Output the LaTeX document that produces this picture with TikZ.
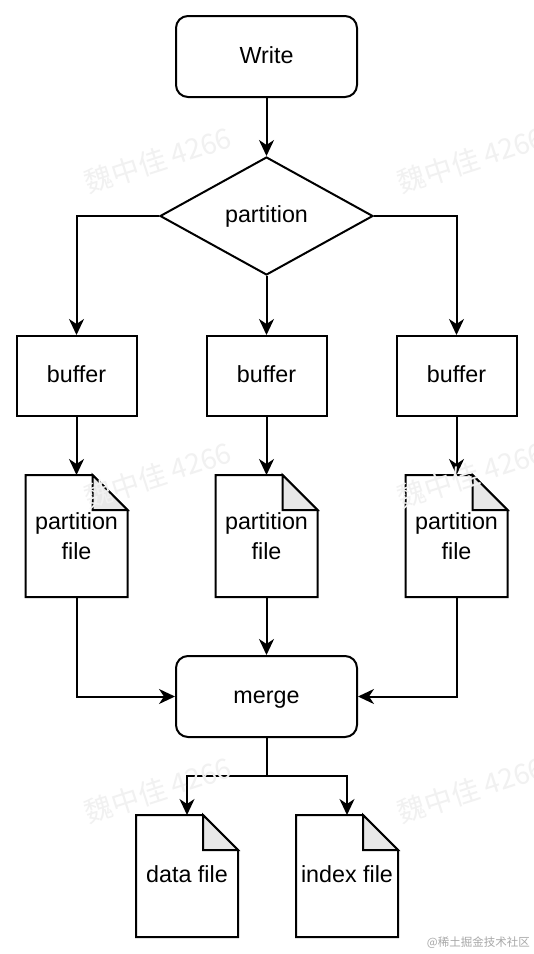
\documentclass[tikz,border=0pt]{standalone}
\usepackage{fontspec}
\setmainfont{Liberation Sans}
\newfontfamily\cjk{Noto Sans CJK SC}
\usetikzlibrary{shapes.geometric,arrows.meta}
\definecolor{foldgray}{HTML}{E8E8E8}
\definecolor{wmgray}{HTML}{F1F1F1}
\definecolor{sitegray}{HTML}{A8A8A8}
\tikzset{
  base/.style={line width=2pt, font=\fontsize{23.3}{30}\selectfont, align=center, inner sep=0pt},
  oneline/.style={text height=18.6pt, text depth=5pt},
  roundbox/.style={base, oneline, draw, rounded corners=12pt, minimum width=181pt, minimum height=81pt},
  squarebox/.style={base, oneline, draw, minimum width=120pt, minimum height=80pt},
  decision/.style={base, oneline, draw, diamond, minimum width=213pt, minimum height=118pt},
  filebox/.style={base, minimum width=100pt, minimum height=120pt},
  link/.style={line width=2pt},
  arrow/.style={link, -{Stealth[length=16pt,width=15pt,inset=5pt]}},
  wm/.style={font=\cjk\fontsize{28}{28}\selectfont, text=wmgray, rotate=18, inner sep=0pt},
}
\newcommand{\docoutline}[1]{%
  \draw[link, line join=miter] (#1.north west) -- ([xshift=-35pt]#1.north east) -- ([yshift=-35pt]#1.north east) -- (#1.south east) -- (#1.south west) -- cycle;
  \draw[link, fill=foldgray, line join=miter] ([xshift=-35pt]#1.north east) -- ([xshift=-35pt,yshift=-35pt]#1.north east) -- ([yshift=-35pt]#1.north east) -- cycle;}
\begin{document}
\begin{tikzpicture}[x=1pt,y=-1pt]
\useasboundingbox[fill=white] (0,0) rectangle (534,954);
\node[roundbox] (write) at (266.5,56.5) {Write};
\node[decision] (part) at (266.5,216) {partition};
\node[squarebox] (b1) at (76.5,376) {buffer};
\node[squarebox] (b2) at (266.5,376) {buffer};
\node[squarebox] (b3) at (456.5,376) {buffer};
\node[filebox] (f1) at (76.5,536) {partition\\file};
\node[filebox] (f2) at (266.5,536) {partition\\file};
\node[filebox] (f3) at (456.5,536) {partition\\file};
\node[roundbox] (merge) at (266.5,696.5) {merge};
\node[filebox, oneline] (df) at (187,876) {data file};
\node[filebox, oneline] (xf) at (347,876) {index file};
\docoutline{f1}\docoutline{f2}\docoutline{f3}\docoutline{df}\docoutline{xf}
\coordinate (split) at (266.5,776);
\draw[arrow] (write) -- (part);
\draw[arrow] (part.west) -| (b1.north);
\draw[arrow] (part.south) -- (b2.north);
\draw[arrow] (part.east) -| (b3.north);
\draw[arrow] (b1) -- (f1);
\draw[arrow] (b2) -- (f2);
\draw[arrow] (b3) -- (f3);
\draw[arrow] (f1.south) |- (merge.west);
\draw[arrow] (f2.south) -- (merge.north);
\draw[arrow] (f3.south) |- (merge.east);
\draw[link] (merge.south) -- (split);
\draw[arrow] (split) -| (df.north);
\draw[arrow] (split) -| (xf.north);
\node[wm] (wm1) at (158,160) {魏中佳 4266};
\node[wm] (wm2) at (471,160) {魏中佳 4266};
\node[wm] (wm3) at (158,475) {魏中佳 4266};
\node[wm] (wm4) at (471,475) {魏中佳 4266};
\node[wm] (wm5) at (158,790) {魏中佳 4266};
\node[wm] (wm6) at (471,790) {魏中佳 4266};
\node[font=\cjk\fontsize{11.5}{11.5}\selectfont, text=sitegray, anchor=east, inner sep=0pt] (site) at (530,943) {@稀土掘金技术社区};
\end{tikzpicture}
\end{document}
